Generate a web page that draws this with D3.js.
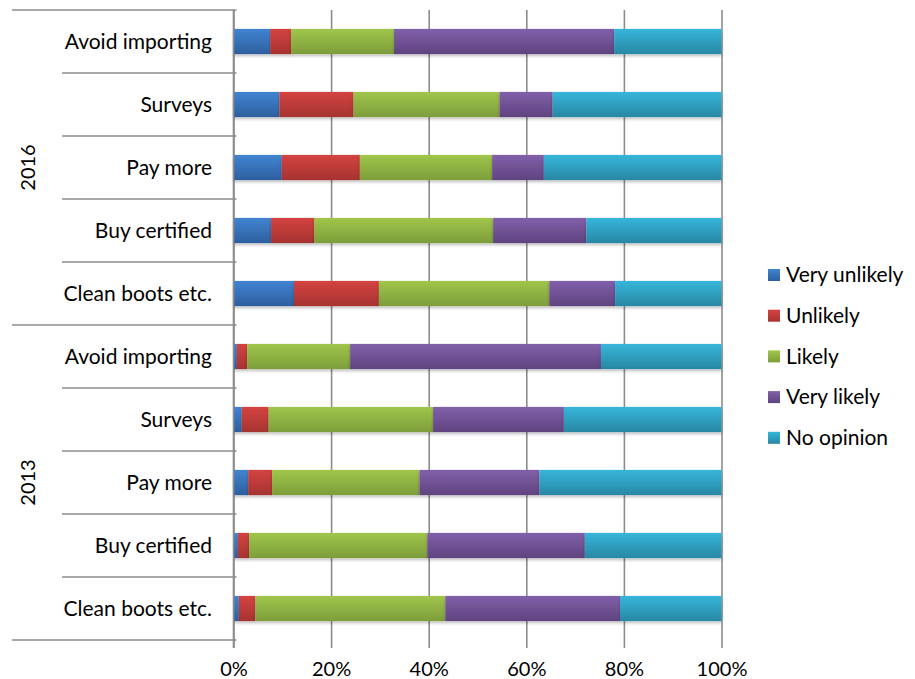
<!DOCTYPE html>
<html>
<head>
<meta charset="utf-8">
<script src="https://cdn.jsdelivr.net/npm/d3@7"></script>
<style>
  body { margin: 0; background: #fff; }
  text { font-family: Lato, "Open Sans", sans-serif; fill: #000; }
</style>
</head>
<body>
<div id="main"></div>
<script>
const groups = ["2016", "2013"];
const measures = ["Avoid importing", "Surveys", "Pay more", "Buy certified", "Clean boots etc."];
const responses = ["Very unlikely", "Unlikely", "Likely", "Very likely", "No opinion"];
const tickLabels = [0, 20, 40, 60, 80, 100];

// one value per row, 2016 rows first then 2013 rows (top to bottom)
const veryUnlikely = [7.5, 9.4, 9.9, 7.7, 12.4, 0.7, 1.7, 3.0, 0.9, 1.1];
const unlikely     = [4.3, 15.2, 16.0, 8.8, 17.4, 2.1, 5.5, 4.9, 2.3, 3.4];
const likely       = [21.1, 29.9, 27.1, 36.7, 34.9, 21.1, 33.7, 30.2, 36.5, 38.9];
const veryLikely   = [45.1, 10.9, 10.6, 19.1, 13.5, 51.4, 26.8, 24.6, 32.3, 35.8];
const noOpinion    = [22.0, 34.6, 36.4, 27.7, 21.8, 24.7, 32.3, 37.3, 28.0, 20.8];

const colors = [
    ["#4184d2", "#2d5f9e"],
    ["#d44341", "#a63331"],
    ["#a0c64c", "#7d9d3a"],
    ["#8160aa", "#5f437f"],
    ["#36b6da", "#2887a4"]
];

const ctx = {
    W: 915,
    H: 679,
    left: 233.5,
    right: 721.5,
    top: 10,
    bottom: 640
};

function createViz() {
    const svg = d3.select("#main").append("svg")
        .attr("width", ctx.W)
        .attr("height", ctx.H);

    const defs = svg.append("defs");
    colors.forEach((c, i) => {
        const g = defs.append("linearGradient")
            .attr("id", "grad" + i)
            .attr("x1", 0).attr("y1", 0).attr("x2", 0).attr("y2", 1);
        g.append("stop").attr("offset", "0%").attr("stop-color", c[0]);
        g.append("stop").attr("offset", "100%").attr("stop-color", c[1]);
    });
    defs.append("filter").attr("id", "shadow")
        .attr("x", "-5%").attr("y", "-20%").attr("width", "110%").attr("height", "160%")
        .append("feDropShadow")
        .attr("dx", 0).attr("dy", 2).attr("stdDeviation", 1.5)
        .attr("flood-color", "#000").attr("flood-opacity", 0.25);

    const rows = [];
    groups.forEach((g, gi) => measures.forEach((m, mi) => {
        const i = gi * measures.length + mi;
        rows.push({
            key: g + "|" + m, group: g, measure: m,
            "Very unlikely": veryUnlikely[i],
            "Unlikely": unlikely[i],
            "Likely": likely[i],
            "Very likely": veryLikely[i],
            "No opinion": noOpinion[i]
        });
    }));

    const x = d3.scaleLinear().domain([0, 1]).range([ctx.left, ctx.right]);
    const y = d3.scaleBand().domain(rows.map(d => d.key))
        .range([ctx.top, ctx.bottom])
        .paddingInner(0.6).paddingOuter(0.3);
    const step = y.step();

    // gridlines with tick labels
    const xAxis = svg.append("g")
        .attr("transform", `translate(0,${ctx.top})`)
        .call(d3.axisBottom(x)
            .tickValues(tickLabels.map(t => t / 100))
            .tickSize(ctx.bottom + 8 - ctx.top)
            .tickFormat(d => Math.round(d * 100) + "%"));
    xAxis.select(".domain").remove();
    xAxis.selectAll(".tick line")
        .attr("stroke", "#8c8c8c").attr("stroke-width", 1.6);
    xAxis.selectAll(".tick text")
        .attr("y", ctx.bottom + 36 - ctx.top)
        .attr("dy", 0)
        .style("font-size", "20px");

    // stacked bars
    const stack = d3.stack().keys(responses).offset(d3.stackOffsetExpand);
    const series = stack(rows);
    svg.append("g").selectAll("g")
        .data(series)
        .join("g")
        .attr("fill", (d, i) => `url(#grad${i})`)
        .selectAll("rect")
        .data(d => d)
        .join("rect")
        .attr("x", d => x(d[0]))
        .attr("width", d => x(d[1]) - x(d[0]))
        .attr("y", d => y(d.data.key))
        .attr("height", y.bandwidth())
        .attr("filter", "url(#shadow)");

    // category axis
    const cat = svg.append("g");
    cat.append("line")
        .attr("x1", ctx.left).attr("x2", ctx.left)
        .attr("y1", ctx.top).attr("y2", ctx.bottom + 8)
        .attr("stroke", "#8c8c8c").attr("stroke-width", 1.6);

    const bounds = d3.range(rows.length + 1);
    cat.selectAll(".sep")
        .data(bounds)
        .join("line")
        .attr("x1", i => i % measures.length === 0 ? 12 : 62)
        .attr("x2", ctx.left + 3)
        .attr("y1", i => ctx.top + i * step)
        .attr("y2", i => ctx.top + i * step)
        .attr("stroke", "#8c8c8c").attr("stroke-width", 1.6);

    cat.selectAll(".lab")
        .data(rows)
        .join("text")
        .attr("x", 212)
        .attr("y", d => y(d.key) + y.bandwidth() / 2)
        .attr("dy", "0.35em")
        .attr("text-anchor", "end")
        .style("font-size", "21px")
        .text(d => d.measure);

    cat.selectAll(".grp")
        .data(groups)
        .join("text")
        .attr("transform", (g, gi) =>
            `translate(28,${ctx.top + (gi + 0.5) * measures.length * step}) rotate(-90)`)
        .attr("dy", "0.35em")
        .attr("text-anchor", "middle")
        .style("font-size", "20px")
        .text(g => g);

    // legend
    const legend = svg.append("g")
        .selectAll("g")
        .data(responses)
        .join("g")
        .attr("transform", (d, i) => `translate(768,${275 + i * 40.7})`);
    legend.append("rect")
        .attr("x", 0).attr("y", -6)
        .attr("width", 12).attr("height", 12)
        .attr("fill", (d, i) => `url(#grad${i})`);
    legend.append("text")
        .attr("x", 18)
        .attr("dy", "0.35em")
        .style("font-size", "21px")
        .text(d => d);
}

createViz();
</script>
</body>
</html>
